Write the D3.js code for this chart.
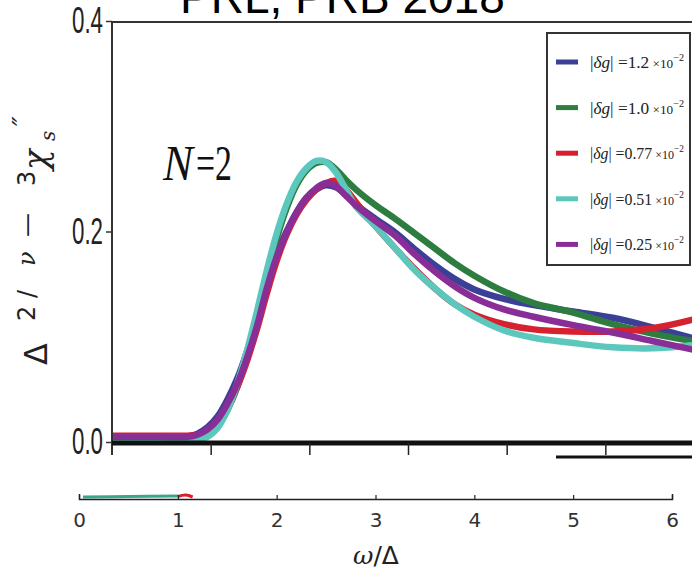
<!DOCTYPE html>
<head>
<meta charset="utf-8">
<script src="https://cdnjs.cloudflare.com/ajax/libs/d3/7.8.5/d3.min.js"></script>
<style>
	body { margin: 0; background: #fff; }
	svg { display: block; }
</style>
</head>
<body>
<script type="text/javascript">

var w = 692;
var h = 573;

// omega / Delta sample points
var omega  = [0.33, 0.8, 1.1, 1.2, 1.3, 1.4, 1.5, 1.6, 1.7, 1.8, 1.9, 2.0, 2.1, 2.2, 2.3, 2.4, 2.5, 2.6, 2.7, 2.8, 3.0, 3.2, 3.4, 3.6, 3.8, 4.0, 4.3, 4.6, 5.0, 5.4, 5.8, 6.2];
var blue   = [0.004,0.004,0.005,0.008,0.014,0.024,0.040,0.060,0.086,0.116,0.150,0.178,0.200,0.218,0.232,0.240,0.244,0.242,0.235,0.226,0.212,0.199,0.183,0.168,0.155,0.145,0.136,0.130,0.124,0.118,0.109,0.099];
var green  = [0.004,0.004,0.004,0.004,0.006,0.014,0.030,0.052,0.082,0.118,0.157,0.193,0.222,0.244,0.258,0.265,0.266,0.259,0.249,0.240,0.225,0.212,0.198,0.184,0.170,0.158,0.143,0.132,0.123,0.112,0.103,0.096];
var red    = [0.006,0.006,0.006,0.007,0.011,0.019,0.033,0.052,0.077,0.107,0.141,0.172,0.197,0.216,0.230,0.240,0.246,0.248,0.240,0.228,0.205,0.184,0.164,0.146,0.131,0.121,0.112,0.107,0.105,0.105,0.108,0.116];
var cyan   = [0.003,0.003,0.003,0.003,0.005,0.013,0.030,0.055,0.087,0.124,0.163,0.198,0.226,0.247,0.260,0.267,0.266,0.256,0.240,0.224,0.205,0.184,0.163,0.146,0.131,0.119,0.106,0.099,0.094,0.090,0.089,0.092];
var purple = [0.005,0.005,0.005,0.007,0.012,0.021,0.036,0.055,0.080,0.110,0.146,0.176,0.199,0.218,0.232,0.241,0.246,0.243,0.234,0.225,0.210,0.196,0.178,0.162,0.148,0.137,0.126,0.119,0.111,0.104,0.096,0.088];

var dgValues = ["1.2", "1.0", "0.77", "0.51", "0.25"];
var colors = ["#3b3f97", "#2f7d3f", "#d6202f", "#5bc8bd", "#8a2d97"];
var seriesData = [blue, green, red, cyan, purple];

var yTicks = [0, 0.2, 0.4];
var xTicks = [0, 1, 2, 3, 4, 5, 6];
var frameTicks = [1, 2, 3, 4, 5];

// bits of the lower panel that peek above its axis
var lowOmega = [0.04, 0.5, 1.0];
var lowGreen = [0.1, 0.15, 0.2];
var lowRedOmega = [1.0, 1.08, 1.15];
var lowRed = [0.15, 0.3, 0.1];

var svg = d3.select("body").append("svg")
	.attr("width", w)
	.attr("height", h);

var x = d3.scaleLinear().domain([0, 6]).range([79, 672]);
var xFrame = d3.scaleLinear().domain([0, 6]).range([112, 704]);
var y = d3.scaleLinear().domain([0, 0.4]).range([442, 21]);
var yLow = d3.scaleLinear().domain([0, 1]).range([498, 488]);

svg.append("defs").append("clipPath").attr("id", "clip")
	.append("rect").attr("x", 113).attr("y", 23).attr("width", 580).attr("height", 425);
svg.select("defs").append("filter").attr("id", "soft")
	.append("feGaussianBlur").attr("stdDeviation", 0.6);

// title (cut off at the top)
svg.append("text")
	.attr("x", 180).attr("y", 13)
	.attr("font-family", "Liberation Sans, Arial, sans-serif")
	.attr("font-size", 46)
	.attr("fill", "#000")
	.text("PRL, PRB 2018");

// frame
svg.append("line").attr("x1", 112).attr("x2", 692).attr("y1", 22).attr("y2", 22)
	.attr("stroke", "#333").attr("stroke-width", 2);
svg.append("line").attr("x1", 112).attr("x2", 112).attr("y1", 21).attr("y2", 455)
	.attr("stroke", "#333").attr("stroke-width", 2);

// curves
var line = d3.line()
	.x(function(d){ return x(d[0]); })
	.y(function(d){ return y(d[1]); })
	.curve(d3.curveCatmullRom);

svg.append("g").attr("clip-path", "url(#clip)")
	.selectAll("path")
	.data(seriesData)
	.enter()
	.append("path")
	.attr("d", function(d){ return line(d.map(function(v, i){ return [omega[i], v]; })); })
	.attr("fill", "none")
	.attr("stroke", function(d, i){ return colors[i]; })
	.attr("stroke-width", 6.5)
	.attr("stroke-linecap", "round")
	.attr("filter", "url(#soft)");

// thick zero line and frame ticks
svg.append("line").attr("x1", 112).attr("x2", 692).attr("y1", 443).attr("y2", 443)
	.attr("stroke", "#111").attr("stroke-width", 5);
var fAxis = svg.append("g").attr("transform", "translate(0,443)")
	.call(d3.axisBottom(xFrame).tickValues(frameTicks).tickSize(12).tickFormat(""));
fAxis.select(".domain").remove();
fAxis.selectAll("line").attr("stroke", "#222").attr("stroke-width", 1.5);

svg.append("line").attr("x1", 556).attr("x2", 692).attr("y1", 457).attr("y2", 457)
	.attr("stroke", "#111").attr("stroke-width", 3);

// y axis
var yAxis = svg.append("g").attr("transform", "translate(112,0)")
	.call(d3.axisLeft(y).tickValues(yTicks).tickFormat(d3.format(".1f")).tickSize(6).tickPadding(3));
yAxis.select(".domain").remove();
yAxis.selectAll("line").attr("stroke", "#333").attr("stroke-width", 1.5);
yAxis.selectAll("text")
	.attr("font-family", "Liberation Sans, Arial, sans-serif")
	.attr("font-size", 37)
	.attr("fill", "#222")
	.attr("textLength", 31)
	.attr("lengthAdjust", "spacingAndGlyphs");

// y label, rotated
var yl = svg.append("g").attr("transform", "translate(47,0) rotate(-90)")
	.attr("fill", "#222");
function piece(txt, pos, dy, size, fam, style) {
	yl.append("text").attr("x", -pos).attr("y", dy)
		.attr("font-size", size)
		.attr("font-family", fam)
		.attr("font-style", style || "normal")
		.text(txt);
}
piece("\u0394", 365, 0, 32, "DejaVu Sans");
piece("2", 321, -12, 24, "DejaVu Sans");
piece("/", 298, -12, 24, "DejaVu Sans");
piece("\u03BD", 266, -12, 24, "DejaVu Serif", "italic");
piece("\u2014", 237, -12, 24, "DejaVu Sans");
piece("3", 186, -12, 24, "DejaVu Sans");
piece("\u03C7", 170, 0, 34, "DejaVu Serif", "italic");
piece("s", 141, 8, 20, "DejaVu Serif", "italic");
piece("\u2033", 126, -16, 26, "DejaVu Serif", "italic");

// N=2
svg.append("text").attr("x", 163).attr("y", 180)
	.attr("font-family", "Liberation Serif, Times New Roman, serif")
	.attr("font-size", 50).attr("font-style", "italic")
	.attr("fill", "#111")
	.attr("textLength", 30)
	.attr("lengthAdjust", "spacingAndGlyphs")
	.text("N");
svg.append("text").attr("x", 196).attr("y", 180)
	.attr("font-family", "Liberation Serif, Times New Roman, serif")
	.attr("font-size", 50)
	.attr("fill", "#111")
	.attr("textLength", 36)
	.attr("lengthAdjust", "spacingAndGlyphs")
	.text("=2");

// legend
svg.append("rect").attr("x", 547).attr("y", 33).attr("width", 143).attr("height", 232)
	.attr("fill", "#fff").attr("stroke", "#333").attr("stroke-width", 2);
var leg = svg.selectAll(".leg").data(dgValues).enter().append("g")
	.attr("class", "leg")
	.attr("transform", function(d, i){ return "translate(0," + (62 + i * 45.6) + ")"; });
leg.append("line").attr("x1", 556).attr("x2", 578)
	.attr("stroke", function(d, i){ return colors[i]; })
	.attr("stroke-width", 5);
var lt = leg.append("text").attr("x", 590).attr("y", 6)
	.attr("font-family", "Liberation Serif, Times New Roman, serif")
	.attr("font-size", 17)
	.attr("fill", "#222")
	.attr("textLength", 94)
	.attr("lengthAdjust", "spacingAndGlyphs");
lt.append("tspan").text("|");
lt.append("tspan").attr("font-style", "italic").text("\u03B4g");
lt.append("tspan").text("| =");
lt.append("tspan").text(function(d){ return d; });
lt.append("tspan").attr("font-size", 13).text(" \u00D710");
lt.append("tspan").attr("font-size", 10).attr("dy", -7).text("\u22122");

// lower panel axis
svg.append("path")
	.attr("d", d3.line().curve(d3.curveCatmullRom)(lowOmega.map(function(v, i){ return [x(v), yLow(lowGreen[i])]; })))
	.attr("fill", "none").attr("stroke", "#3aa68a").attr("stroke-width", 3);
svg.append("path")
	.attr("d", d3.line().curve(d3.curveCatmullRom)(lowRedOmega.map(function(v, i){ return [x(v), yLow(lowRed[i])]; })))
	.attr("fill", "none").attr("stroke", "#d6202f").attr("stroke-width", 3);

var xAxis = svg.append("g").attr("transform", "translate(0,499)")
	.call(d3.axisBottom(x).tickValues(xTicks).tickFormat(d3.format("d"))
		.tickSizeInner(-4).tickSizeOuter(-5).tickPadding(14));
xAxis.select(".domain").attr("stroke", "#222").attr("stroke-width", 1.5);
xAxis.selectAll("line").attr("stroke", "#222").attr("stroke-width", 1.2);
xAxis.selectAll("text")
	.attr("font-family", "DejaVu Sans, sans-serif")
	.attr("font-size", 20)
	.attr("fill", "#333");

var xl = svg.append("text").attr("x", 376).attr("y", 564)
	.attr("text-anchor", "middle")
	.attr("font-size", 25)
	.attr("fill", "#222");
xl.append("tspan").attr("font-family", "DejaVu Serif").attr("font-style", "italic").text("\u03C9");
xl.append("tspan").attr("font-family", "DejaVu Sans").text("/\u0394");

</script>
</body>
